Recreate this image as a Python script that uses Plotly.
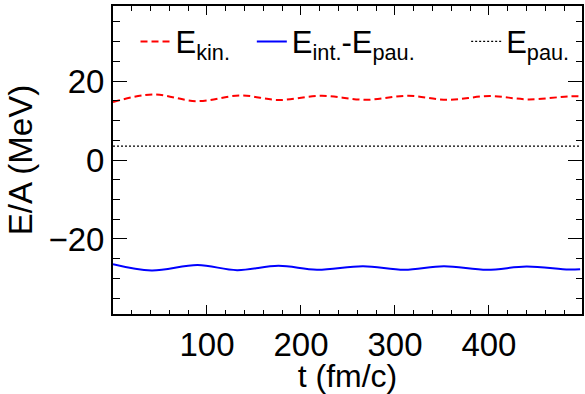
import plotly.graph_objects as go

# Time grid (fm/c) and energy per nucleon (MeV) for each term
t_kin = [0, 43, 89, 136, 176, 222, 269, 314, 356, 401, 442, 487, 497]
e_kin = [14.7, 16.6, 14.9, 16.35, 15.2, 16.25, 15.25, 16.25, 15.25, 16.2, 15.35, 16.15, 16.1]

t_int = [0, 41, 90, 132, 176, 217, 266, 310, 352, 398, 440, 485, 497]
e_int = [-26.4, -28.0, -26.6, -27.9, -26.8, -27.8, -26.9, -27.8, -26.9, -27.8, -27.0, -27.75, -27.65]

t_pau = [0, 100, 200, 300, 400, 497]
e_pau = [3.5, 3.5, 3.5, 3.5, 3.5, 3.5]

x_ticks = [100, 200, 300, 400]
y_ticks = [-20, 0, 20]

FONT = "Liberation Sans, Arial, sans-serif"
LEG_FONT = "Liberation Sans Narrow, Arial Narrow, Liberation Sans, sans-serif"

fig = go.Figure()
fig.add_trace(go.Scatter(
    x=t_kin, y=e_kin, mode="lines", name="E<sub>kin.</sub>",
    line=dict(color="#ff0000", width=2, dash="7px,4px", shape="spline"),
    legend="legend", showlegend=True,
))
fig.add_trace(go.Scatter(
    x=t_int, y=e_int, mode="lines", name="E<sub>int.</sub>-E<sub>pau.</sub>",
    line=dict(color="#0000ff", width=2, shape="spline"),
    legend="legend2", showlegend=True,
))
fig.add_trace(go.Scatter(
    x=t_pau, y=e_pau, mode="lines", name="E<sub>pau.</sub>",
    line=dict(color="#000000", width=1.2, dash="2px,2px"),
    legend="legend3", showlegend=True,
))

leg_common = dict(
    yref="paper", xref="paper", y=0.884, yanchor="middle", xanchor="left",
    bgcolor="rgba(0,0,0,0)", borderwidth=0,
    font=dict(family=LEG_FONT, size=31, color="black"),
)

axis_common = dict(
    showline=True, linecolor="black", linewidth=2, mirror="allticks",
    ticks="inside", tickcolor="black", tickwidth=1.2,
    showgrid=False, zeroline=False,
    tickfont=dict(family=FONT, size=33, color="black"),
)

fig.update_layout(
    width=585, height=394,
    margin=dict(l=113, r=1, t=6, b=78),
    paper_bgcolor="white", plot_bgcolor="white",
    showlegend=True,
    legend=dict(x=0.048, **leg_common),
    legend2=dict(x=0.296, **leg_common),
    legend3=dict(x=0.753, **leg_common),
    xaxis=dict(
        range=[0, 499], tickvals=x_ticks, ticklen=9,
        minor=dict(dtick=20, ticklen=4.5, tickcolor="black", ticks="inside", tickwidth=1.2),
        title=dict(text="t (fm/c)", font=dict(family=FONT, size=32, color="black"), standoff=8),
        **axis_common,
    ),
    yaxis=dict(
        range=[-39, 39], tickvals=y_ticks, ticklen=14,
        minor=dict(dtick=5, ticklen=6.5, tickcolor="black", ticks="inside", tickwidth=1.2),
        title=dict(text="E/A (MeV)", font=dict(family=FONT, size=33, color="black"), standoff=6),
        **axis_common,
    ),
)

fig.write_html("out.html")
